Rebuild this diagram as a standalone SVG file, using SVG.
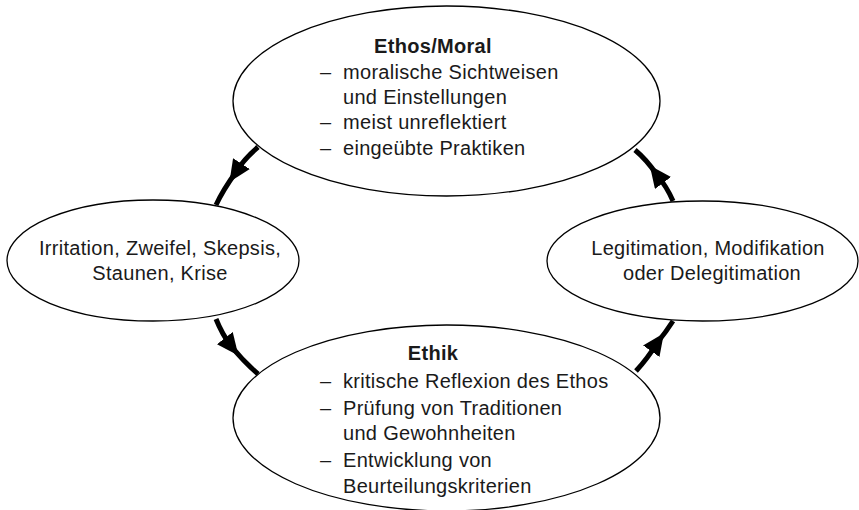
<svg xmlns="http://www.w3.org/2000/svg" width="859" height="510" viewBox="0 0 859 510">
<defs>
<style>
.node ellipse{fill:#fff;stroke:#000;stroke-width:1.3}
text{font-family:"Liberation Sans",Arial,sans-serif;font-size:20px;letter-spacing:0.3px;fill:#1a1a1a}
.b{font-weight:bold}
.c{text-anchor:middle}
.conn path{fill:none;stroke:#000;stroke-width:5;marker-mid:url(#ah)}
</style>
<marker id="ah" markerUnits="userSpaceOnUse" markerWidth="22" markerHeight="20" viewBox="0 0 22 20" refX="10" refY="10" orient="auto">
<path d="M0,0 L22,10 L0,20 z" fill="#000"/>
</marker>
</defs>
<g id="ethos" class="node">
<ellipse cx="446.5" cy="101" rx="213.5" ry="95"/>
<text class="b c" x="433" y="53">Ethos/Moral</text>
<text><tspan x="320" y="79">–</tspan><tspan x="343" y="79">moralische Sichtweisen</tspan></text>
<text x="343" y="104">und Einstellungen</text>
<text><tspan x="320" y="129">–</tspan><tspan x="343" y="129">meist unreflektiert</tspan></text>
<text><tspan x="320" y="155">–</tspan><tspan x="343" y="155">eingeübte Praktiken</tspan></text>
</g>
<g id="irritation" class="node">
<ellipse cx="153" cy="260.5" rx="146" ry="60.5"/>
<text class="c" x="160" y="255">Irritation, Zweifel, Skepsis,</text>
<text class="c" x="160" y="280">Staunen, Krise</text>
</g>
<g id="legitimation" class="node">
<ellipse cx="702.5" cy="261" rx="155.5" ry="60"/>
<text class="c" x="708" y="255">Legitimation, Modifikation</text>
<text class="c" x="712" y="280">oder Delegitimation</text>
</g>
<g id="ethik" class="node">
<ellipse cx="446.5" cy="418" rx="213.5" ry="93"/>
<text class="b c" x="433" y="360">Ethik</text>
<text><tspan x="320" y="388">–</tspan><tspan x="343" y="388">kritische Reflexion des Ethos</tspan></text>
<text><tspan x="320" y="415">–</tspan><tspan x="343" y="415">Prüfung von Traditionen</tspan></text>
<text x="343" y="440">und Gewohnheiten</text>
<text><tspan x="320" y="467">–</tspan><tspan x="343" y="467">Entwicklung von</tspan></text>
<text x="343" y="493">Beurteilungskriterien</text>
</g>
<g id="connectors" class="conn">
<path d="M258,147 Q243,160 236,172 Q223,190 216,205"/>
<path d="M216,319 Q222,334 231,346 Q244,362 258,374"/>
<path d="M636,371 Q648,358 657,343 Q666,332 673,321"/>
<path d="M673,201 Q667,187 657,175 Q647,160 635,150"/>
</g>
</svg>
